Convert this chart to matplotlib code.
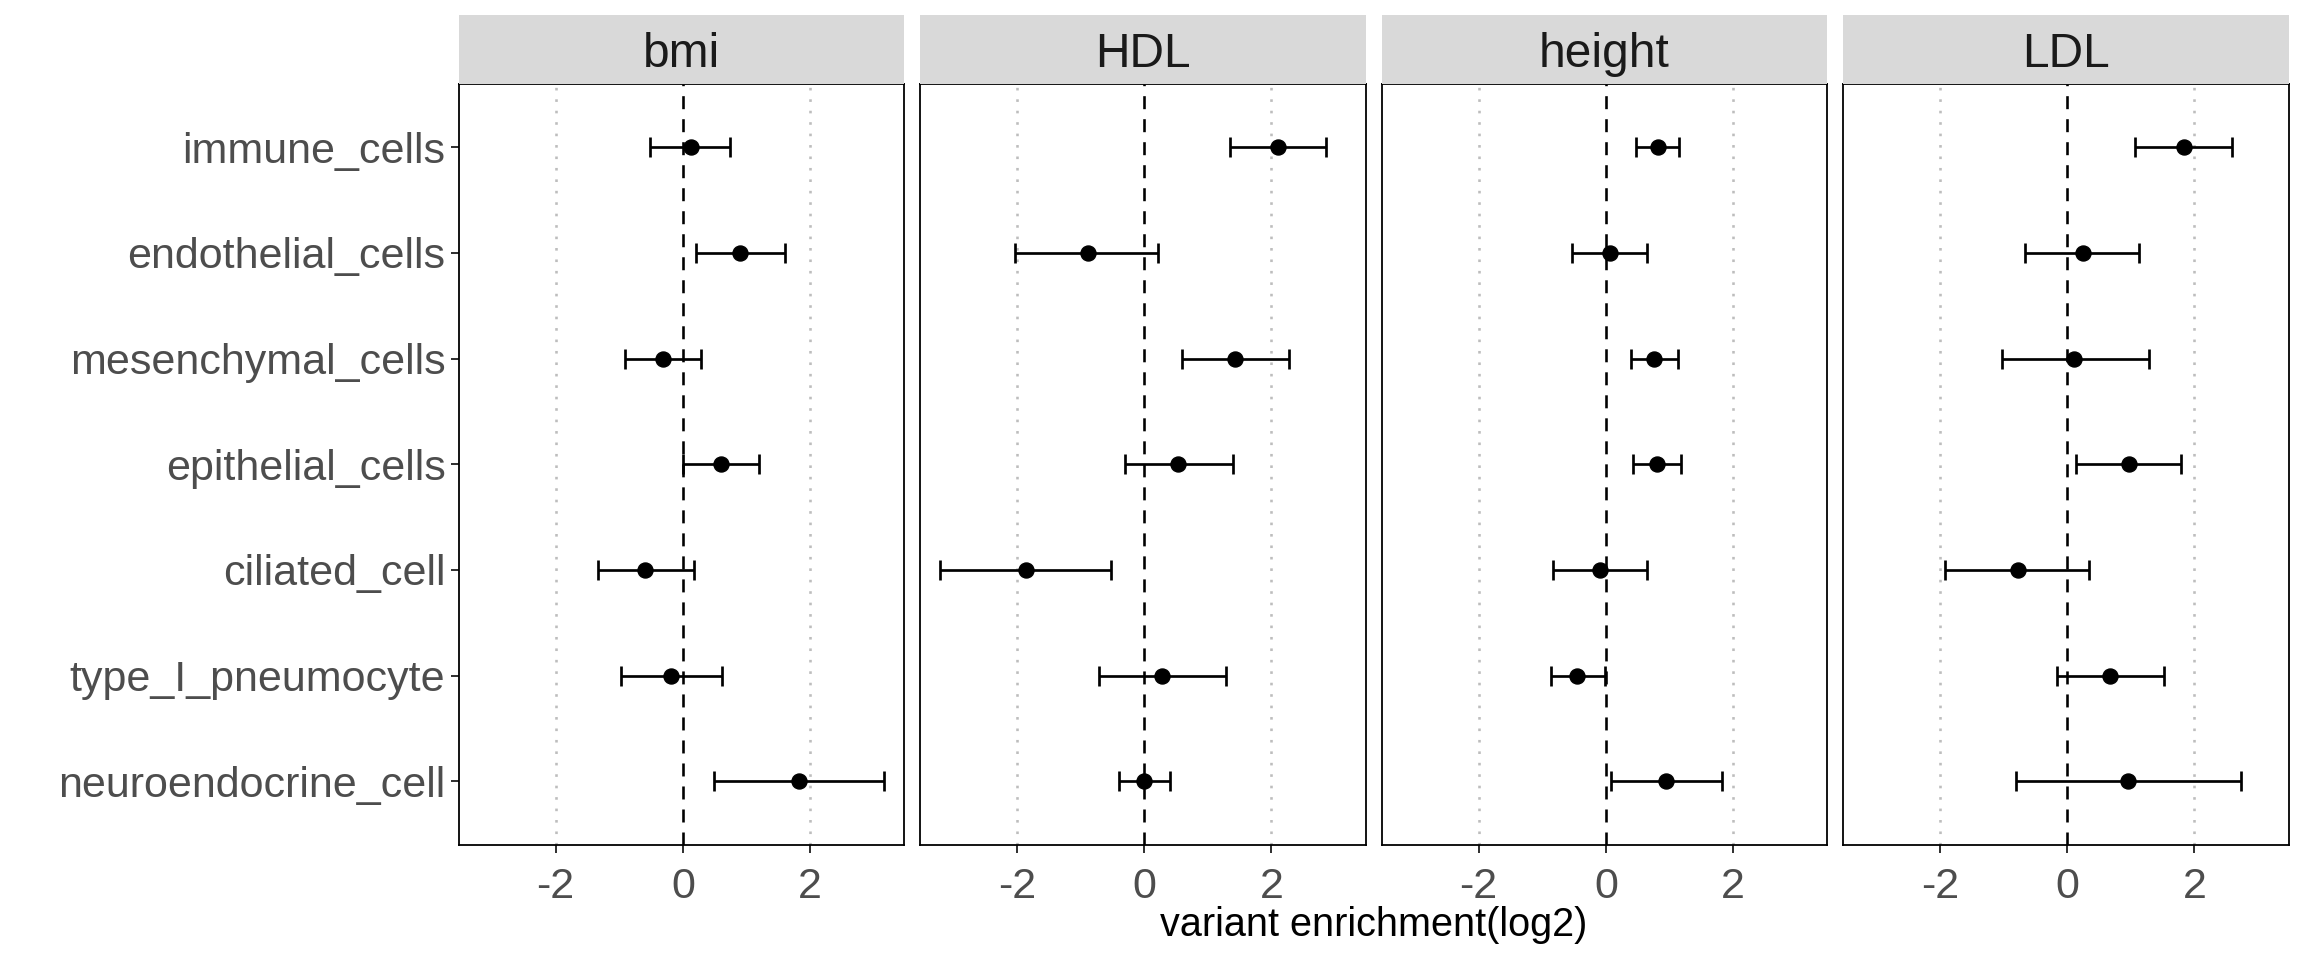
import matplotlib
matplotlib.use("Agg")
import matplotlib.pyplot as plt

# ---------------- data ----------------
cells = ["immune_cells", "endothelial_cells", "mesenchymal_cells",
         "epithelial_cells", "ciliated_cell", "type_I_pneumocyte",
         "neuroendocrine_cell"]
traits = ["bmi", "HDL", "height", "LDL"]

bmi_est = [0.13, 0.90, -0.31, 0.60, -0.59, -0.18, 1.83]
bmi_lo = [-0.51, 0.20, -0.91, 0.01, -1.34, -0.97, 0.49]
bmi_hi = [0.74, 1.61, 0.29, 1.20, 0.17, 0.62, 3.16]

hdl_est = [2.10, -0.88, 1.43, 0.53, -1.86, 0.28, 0.00]
hdl_lo = [1.35, -2.03, 0.60, -0.31, -3.21, -0.72, -0.40]
hdl_hi = [2.86, 0.22, 2.28, 1.39, -0.52, 1.28, 0.40]

height_est = [0.82, 0.06, 0.75, 0.81, -0.09, -0.45, 0.95]
height_lo = [0.47, -0.54, 0.39, 0.42, -0.83, -0.87, 0.08]
height_hi = [1.15, 0.64, 1.13, 1.19, 0.64, -0.02, 1.82]

ldl_est = [1.84, 0.24, 0.11, 0.97, -0.78, 0.67, 0.96]
ldl_lo = [1.07, -0.67, -1.03, 0.14, -1.92, -0.17, -0.81]
ldl_hi = [2.59, 1.13, 1.28, 1.79, 0.34, 1.52, 2.73]

x_ticks = [-2, 0, 2]
x_label = "variant enrichment(log2)"

series = {
    "bmi": (bmi_est, bmi_lo, bmi_hi),
    "HDL": (hdl_est, hdl_lo, hdl_hi),
    "height": (height_est, height_lo, height_hi),
    "LDL": (ldl_est, ldl_lo, ldl_hi),
}

# ---------------- figure ----------------
plt.rcParams['font.family'] = ['Liberation Sans', 'DejaVu Sans']
W, H = 2304, 960
DPI = 100
fig = plt.figure(figsize=(W / DPI, H / DPI), dpi=DPI)

panel_lefts = [458.5, 920.0, 1381.5, 1843.0]
panel_w = 445.5
panel_top = 84.0
panel_bot = 844.5
strip_top = 15.0

all_vals = bmi_lo + bmi_hi + hdl_lo + hdl_hi + height_lo + height_hi + ldl_lo + ldl_hi
xmin, xmax = min(all_vals), max(all_vals)
rng = xmax - xmin
xlim = (xmin - 0.05 * rng, xmax + 0.05 * rng)

n = len(cells)
ypos = [n - i for i in range(n)]

tick_color = "#4D4D4D"
px = 72.0 / DPI  # points per pixel

for k, t in enumerate(traits):
    left = panel_lefts[k]
    ax = fig.add_axes([left / W, 1 - panel_bot / H, panel_w / W, (panel_bot - panel_top) / H])
    est, lo, hi = series[t]
    xerr = [[e - l for e, l in zip(est, lo)], [h - e for e, h in zip(est, hi)]]

    for g in [-2, 2]:
        ax.axvline(g, color="#BDBDBD", lw=2.6 * px, linestyle=(0, (1.0, 3.4)),
                   dash_capstyle="butt", zorder=1)
    ax.axvline(0, color="black", lw=2.6 * px, linestyle=(0, (5.0, 3.85)), zorder=2)

    ax.errorbar(est, ypos, xerr=xerr, fmt="o", color="black", ecolor="black",
                elinewidth=2.7 * px, capsize=10 * px, capthick=2.7 * px,
                markersize=15 * px, zorder=3)

    ax.set_xlim(*xlim)
    ax.set_ylim(0.4, n + 0.6)
    ax.set_xticks(x_ticks)
    ax.set_xticklabels([str(v) for v in x_ticks])
    ax.set_yticks(ypos)
    if k == 0:
        ax.set_yticklabels(cells)
        ax.tick_params(axis="y", length=8 * px, width=2.0 * px, color="#333333",
                       labelsize=31, labelcolor=tick_color, pad=5 * px)
    else:
        ax.tick_params(axis="y", left=False, labelleft=False)
    ax.tick_params(axis="x", length=8 * px, width=2.0 * px, color="#333333",
                   labelsize=31, labelcolor=tick_color, pad=14 * px)
    for s in ax.spines.values():
        s.set_color("black")
        s.set_linewidth(1.8 * px)
    ax.grid(False)

    # strip
    sax = fig.add_axes([left / W, 1 - panel_top / H, panel_w / W, (panel_top - strip_top) / H])
    sax.set_facecolor("#D9D9D9")
    for s in sax.spines.values():
        s.set_visible(False)
    sax.set_xticks([])
    sax.set_yticks([])
    sax.text(0.5, 0.25, t, ha="center", va="baseline", fontsize=34.5,
             color="#1A1A1A", transform=sax.transAxes)

fig.text((panel_lefts[0] + panel_lefts[-1] + panel_w) / 2 / W, 1 - 925 / H, x_label,
         ha="center", va="center", fontsize=28.5, color="black")

fig.savefig("out.png", dpi=DPI, facecolor="white")
